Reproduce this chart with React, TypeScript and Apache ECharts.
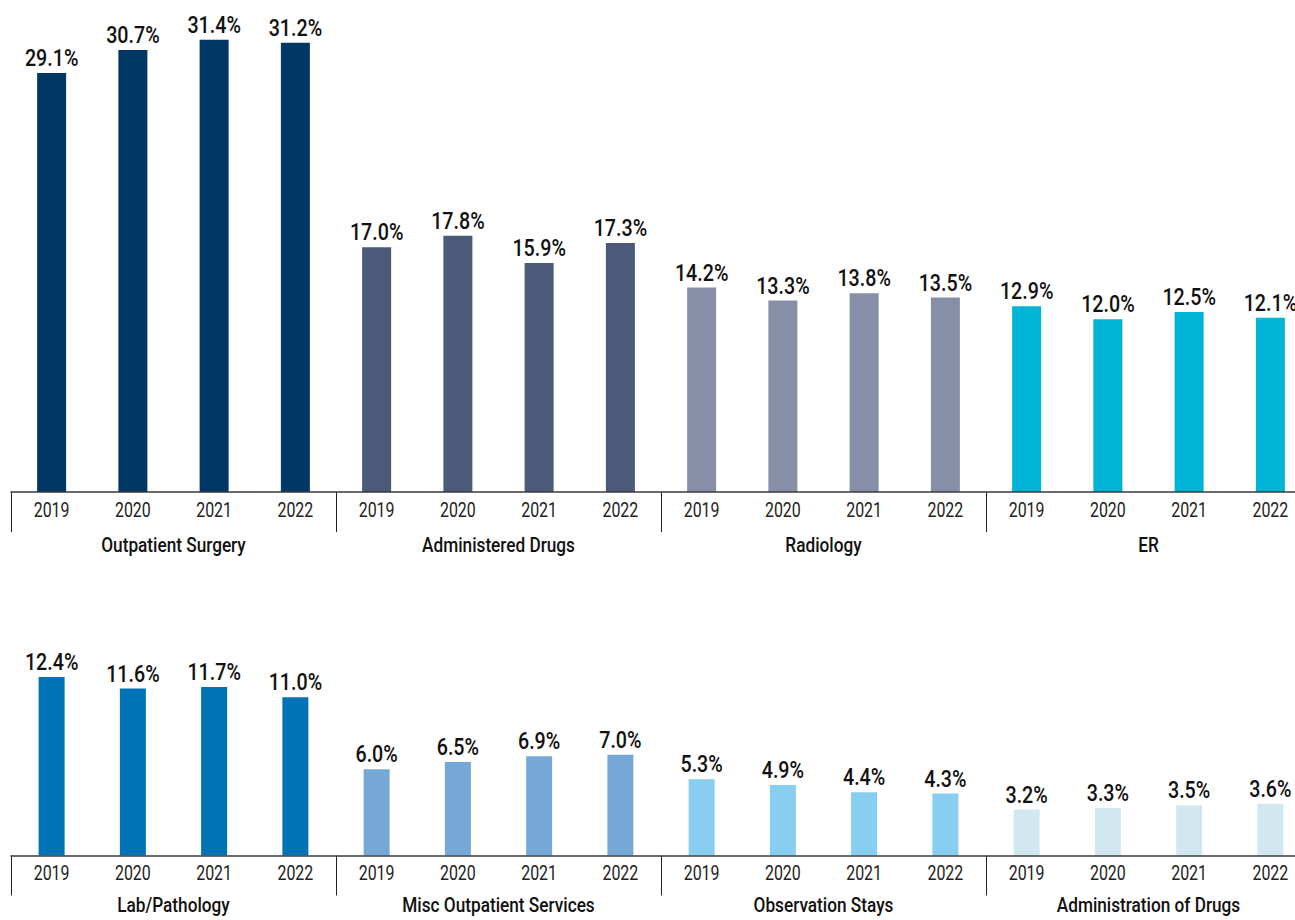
import React, { useEffect, useRef } from "react";
import * as echarts from "echarts";

const years = ["2019", "2020", "2021", "2022"];
const topGroups = ["Outpatient Surgery", "Administered Drugs", "Radiology", "ER"];
const bottomGroups = ["Lab/Pathology", "Misc Outpatient Services", "Observation Stays", "Administration of Drugs"];

const outpatientSurgery = [29.1, 30.7, 31.4, 31.2];
const administeredDrugs = [17.0, 17.8, 15.9, 17.3];
const radiology = [14.2, 13.3, 13.8, 13.5];
const er = [12.9, 12.0, 12.5, 12.1];
const labPathology = [12.4, 11.6, 11.7, 11.0];
const miscOutpatient = [6.0, 6.5, 6.9, 7.0];
const observationStays = [5.3, 4.9, 4.4, 4.3];
const administrationOfDrugs = [3.2, 3.3, 3.5, 3.6];

const topValues = [outpatientSurgery, administeredDrugs, radiology, er];
const bottomValues = [labPathology, miscOutpatient, observationStays, administrationOfDrugs];
const topColors = ["#003764", "#4a5a78", "#878fa8", "#00b4d6"];
const bottomColors = ["#0072b6", "#75a8d6", "#88cef0", "#d2e8f1"];

const FONT = "Roboto, 'Liberation Sans', sans-serif";

function flatBars(values: number[][], colors: string[]) {
  const out: any[] = [];
  values.forEach((g, gi) =>
    g.forEach((v) => out.push({ value: v, itemStyle: { color: colors[gi] } }))
  );
  return out;
}

function flatPoints(values: number[][]) {
  const out: number[][] = [];
  let i = 0;
  values.forEach((g) => g.forEach((v) => out.push([i++, v])));
  return out;
}

const yearCats = topGroups.flatMap(() => years);

export default function App() {
  const ref = useRef<HTMLDivElement>(null);
  useEffect(() => {
    if (!ref.current) return;
    const chart = echarts.init(ref.current, null, { renderer: "svg" });

    const yearAxis = (gridIndex: number) => ({
      type: "category",
      gridIndex,
      data: yearCats,
      position: "bottom",
      axisLine: { show: true, lineStyle: { color: "#3a3a3a", width: 1.5 } },
      axisTick: { show: false },
      axisLabel: { show: false },
      z: 5,
    });
    const groupAxis = (gridIndex: number, groups: string[]) => ({
      type: "category",
      gridIndex,
      data: groups,
      position: "bottom",
      axisLine: { show: false },
      axisTick: { show: true, length: 40, lineStyle: { color: "#222", width: 1 } },
      axisLabel: { show: false },
    });

    const valueLabels = (xi: number, yi: number, values: number[][]) => ({
      type: "custom",
      xAxisIndex: xi,
      yAxisIndex: yi,
      clip: false,
      silent: true,
      z: 10,
      data: flatPoints(values),
      renderItem: (_p: any, api: any) => {
        const v = api.value(1);
        const pt = api.coord([api.value(0), v]);
        return {
          type: "text",
          x: pt[0],
          y: pt[1] - 3,
          scaleX: 0.82,
          style: {
            text: Number(v).toFixed(1) + "%",
            fontSize: 24,
            fontFamily: FONT,
            fontWeight: 500,
            fill: "#111",
            align: "center",
            verticalAlign: "bottom",
          },
        };
      },
    });

    const yearLabels = (xi: number, yi: number, offset: number) => ({
      type: "custom",
      xAxisIndex: xi,
      yAxisIndex: yi,
      clip: false,
      silent: true,
      data: yearCats.map((_, i) => [i, 0]),
      renderItem: (params: any, api: any) => {
        const pt = api.coord([api.value(0), 0]);
        return {
          type: "text",
          x: pt[0],
          y: pt[1] + offset,
          scaleX: 0.76,
          style: {
            text: yearCats[params.dataIndex],
            fontSize: 21,
            fontFamily: FONT,
            fill: "#222",
            align: "center",
            verticalAlign: "middle",
          },
        };
      },
    });

    const groupLabels = (xi: number, yi: number, groups: string[], offset: number) => ({
      type: "custom",
      xAxisIndex: xi,
      yAxisIndex: yi,
      clip: false,
      silent: true,
      data: groups.map((_, i) => [i, 0]),
      renderItem: (params: any, api: any) => {
        const pt = api.coord([api.value(0), 0]);
        return {
          type: "text",
          x: pt[0],
          y: pt[1] + offset,
          scaleX: 0.82,
          style: {
            text: groups[params.dataIndex],
            fontSize: 21,
            fontFamily: FONT,
            fontWeight: 500,
            fill: "#111",
            align: "center",
            verticalAlign: "middle",
          },
        };
      },
    });

    chart.setOption({
      animation: false,
      grid: [
        { left: 11, width: 1300, top: 2.4, bottom: 428, containLabel: false, outerBoundsMode: "none" },
        { left: 11, width: 1300, top: 654, bottom: 64.5, containLabel: false, outerBoundsMode: "none" },
      ],
      xAxis: [yearAxis(0), groupAxis(0, topGroups), yearAxis(1), groupAxis(1, bottomGroups)],
      yAxis: [
        { type: "value", gridIndex: 0, min: 0, max: 34, show: false },
        { type: "value", gridIndex: 1, min: 0, max: 14, show: false },
      ],
      series: [
        { type: "bar", xAxisIndex: 0, yAxisIndex: 0, barWidth: 29, data: flatBars(topValues, topColors) },
        { type: "bar", xAxisIndex: 2, yAxisIndex: 1, barWidth: 26, data: flatBars(bottomValues, bottomColors) },
        valueLabels(0, 0, topValues),
        valueLabels(2, 1, bottomValues),
        yearLabels(0, 0, 18),
        yearLabels(2, 1, 18),
        groupLabels(1, 0, topGroups, 53),
        groupLabels(3, 1, bottomGroups, 49),
      ],
    });
    return () => chart.dispose();
  }, []);
  return (
    <div
      ref={ref}
      style={{ position: "absolute", left: 0, top: 0, width: 1295, height: 920, background: "#fff" }}
    />
  );
}
